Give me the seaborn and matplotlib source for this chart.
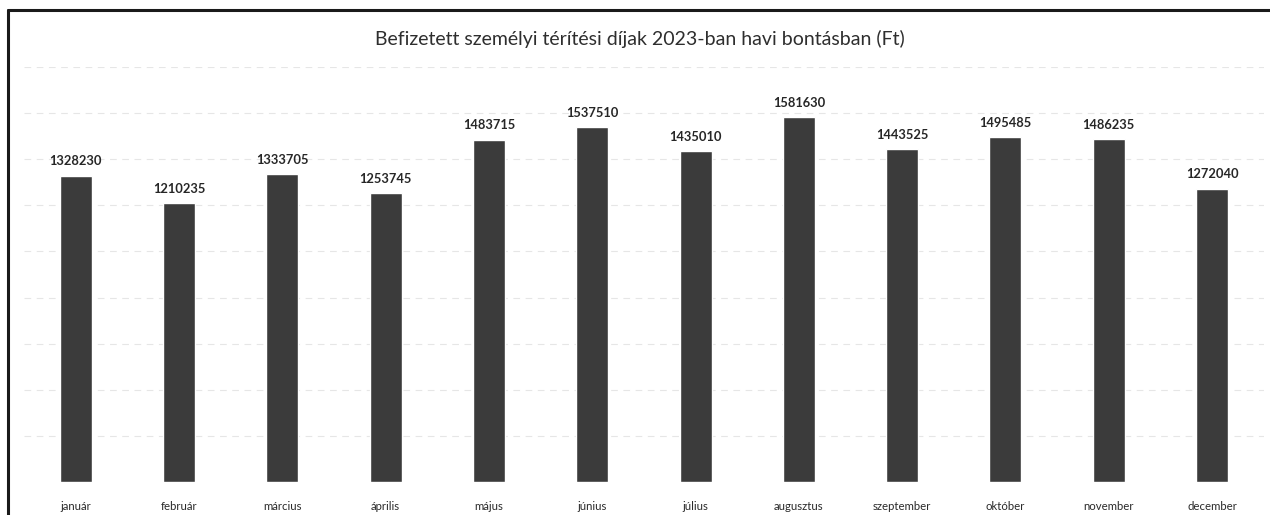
import matplotlib
matplotlib.use("Agg")
import matplotlib.pyplot as plt
from matplotlib.lines import Line2D
import seaborn as sns
import pandas as pd

months = ["január", "február", "március", "április", "május", "június",
          "július", "augusztus", "szeptember", "október", "november", "december"]
payments = [1328230, 1210235, 1333705, 1253745, 1483715, 1537510,
            1435010, 1581630, 1443525, 1495485, 1486235, 1272040]
title = "Befizetett személyi térítési díjak 2023-ban havi bontásban (Ft)"

df = pd.DataFrame({"month": months, "amount": payments})

sns.set_theme(style="white")
plt.rcParams["font.family"] = ["Lato", "DejaVu Sans"]

fig = plt.figure(figsize=(12.70, 5.15), dpi=100)
ax = fig.add_axes([0.019, 0.064, 0.976, 0.806])

sns.barplot(data=df, x="month", y="amount", color="#3b3b3b", saturation=1,
            width=0.31, ax=ax)

ax.set_ylim(0, 1800000)
ax.set_xlim(-0.5, len(months) - 0.5)
ax.set_yticks(range(200000, 1800001, 200000))
ax.yaxis.grid(True, color="#e6e6e6", linewidth=0.8, linestyle=(0, (6, 5)))
ax.set_axisbelow(True)
ax.tick_params(axis="y", left=False, labelleft=False)
ax.tick_params(axis="x", bottom=False, pad=8, labelsize=8.2, labelcolor="#2a2a2a")
for s in ax.spines.values():
    s.set_visible(False)
ax.set_xlabel("")
ax.set_ylabel("")

for i, v in enumerate(payments):
    ax.annotate(f"{v}", (i, v), xytext=(0, 7.5), textcoords="offset points",
                ha="center", va="baseline", fontsize=9.3, fontweight="bold",
                color="#262626")

fig.text(0.504, 0.925, title, ha="center", va="center", fontsize=14,
         color="#2e2e2e")

# frame around the chart
fig.add_artist(Line2D([0.0063, 0.0063], [0.0, 0.98], color="#1a1a1a", linewidth=2.2))
fig.add_artist(Line2D([0.0063, 1.0], [0.98, 0.98], color="#1a1a1a", linewidth=2.2))

fig.savefig("out.png", dpi=100, facecolor="white")
